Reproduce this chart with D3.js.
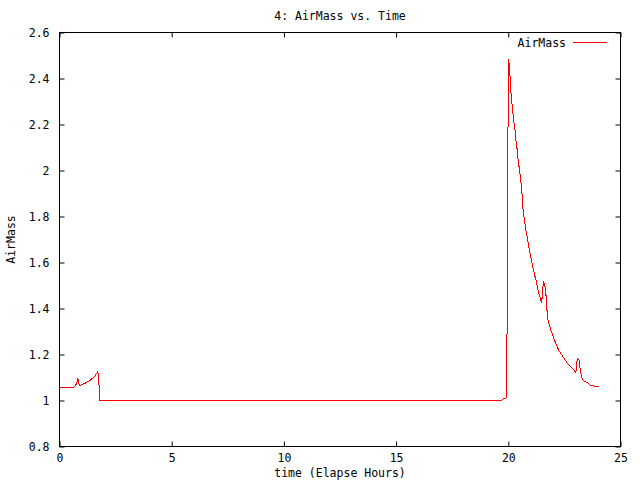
<!DOCTYPE html>
<html>
<head>
<meta charset="utf-8">
<script src="https://cdn.jsdelivr.net/npm/d3@7"></script>
<style>
  body { margin: 0; background: #fff; }
  text { font-family: "DejaVu Sans Mono", monospace; font-size: 11.5px; fill: #000; }
</style>
</head>
<body>
<div id="main"></div>
<script>
// elapsed hours
var hours = [0.04, 0.64, 0.74, 0.82, 0.88, 1.02, 1.20, 1.38, 1.56, 1.71, 1.75, 1.80,
    19.68, 19.77, 19.92, 19.95, 19.98, 20.02, 20.07, 20.11, 20.16, 20.20, 20.25, 20.31,
    20.35, 20.40, 20.44, 20.49, 20.54, 20.60, 20.66, 20.74, 20.81, 20.87, 20.93, 20.99,
    21.05, 21.11, 21.18, 21.26, 21.33, 21.39, 21.45, 21.49, 21.54, 21.58, 21.63, 21.69,
    21.73, 21.78, 21.84, 21.89, 21.96, 22.03, 22.10, 22.18, 22.25, 22.33, 22.40, 22.47,
    22.55, 22.62, 22.70, 22.77, 22.86, 22.95, 23.01, 23.05, 23.10, 23.16, 23.20, 23.25,
    23.31, 23.40, 23.48, 23.59, 23.66, 23.74, 23.89, 24.06];
var airMass = [1.058, 1.058, 1.070, 1.094, 1.065, 1.070, 1.078, 1.089, 1.104, 1.126, 1.087, 1.000,
    1.000, 1.007, 1.012, 1.377, 2.117, 2.483, 2.425, 2.348, 2.297, 2.253, 2.210, 2.167,
    2.123, 2.087, 2.043, 2.009, 1.970, 1.913, 1.826, 1.770, 1.726, 1.696, 1.661, 1.630,
    1.600, 1.574, 1.543, 1.513, 1.478, 1.457, 1.435, 1.427, 1.493, 1.514, 1.500, 1.449,
    1.384, 1.340, 1.326, 1.304, 1.290, 1.268, 1.253, 1.235, 1.217, 1.206, 1.196, 1.186,
    1.174, 1.162, 1.155, 1.148, 1.140, 1.130, 1.120, 1.167, 1.181, 1.174, 1.138, 1.109,
    1.090, 1.084, 1.080, 1.073, 1.065, 1.064, 1.062, 1.058];

var xTicks = [0, 5, 10, 15, 20, 25];
var yTicks = [0.8, 1, 1.2, 1.4, 1.6, 1.8, 2, 2.2, 2.4, 2.6];

const w = 640, h = 480;
const padL = 59.5, padR = 620.5, padT = 32.5, padB = 446.5;
const tick = 5;

const xScale = d3.scaleLinear().domain([0, 25]).range([padL, padR]);
const yScale = d3.scaleLinear().domain([0.8, 2.6]).range([padB, padT]);

const svg = d3.select("#main").append("svg").attr("width", w).attr("height", h);

// axes, ticks pointing inward, mirrored on top and right
const xAxis = d3.axisBottom(xScale).tickValues(xTicks).tickSizeInner(-tick).tickSizeOuter(0).tickPadding(7);
const xTop = d3.axisTop(xScale).tickValues(xTicks).tickSizeInner(-tick).tickSizeOuter(0).tickFormat("");
const yAxis = d3.axisLeft(yScale).tickValues(yTicks).tickSizeInner(-tick).tickSizeOuter(0).tickPadding(10).tickFormat(d3.format("~g"));
const yRight = d3.axisRight(yScale).tickValues(yTicks).tickSizeInner(-tick).tickSizeOuter(0).tickFormat("");

function style(g) {
    g.selectAll("path").remove();
    g.selectAll("line").attr("stroke", "#000");
    g.selectAll("text").style("font-family", "DejaVu Sans Mono").style("font-size", "11.5px").attr("fill", "#000");
}

svg.append("g").attr("transform", "translate(0," + padB + ")").call(xAxis).call(style);
svg.append("g").attr("transform", "translate(0," + padT + ")").call(xTop).call(style);
svg.append("g").attr("transform", "translate(" + padL + ",0)").call(yAxis).call(style);
svg.append("g").attr("transform", "translate(" + padR + ",0)").call(yRight).call(style);

// frame
svg.append("rect")
    .attr("x", padL).attr("y", padT)
    .attr("width", padR - padL).attr("height", padB - padT)
    .attr("fill", "none").attr("stroke", "#000");

// the data line (aliased like the original png)
const line = d3.line()
    .x((d, i) => xScale(hours[i]))
    .y(d => yScale(d));

svg.append("path")
    .datum(airMass)
    .attr("d", line)
    .attr("fill", "none")
    .attr("stroke", "#ff0000")
    .attr("stroke-width", 1)
    .attr("shape-rendering", "crispEdges");

// title and labels
svg.append("text")
    .attr("x", (padL + padR) / 2).attr("y", 20)
    .style("text-anchor", "middle")
    .text("4: AirMass vs. Time");

svg.append("text")
    .attr("x", (padL + padR) / 2).attr("y", 477)
    .style("text-anchor", "middle")
    .text("time (Elapse Hours)");

svg.append("text")
    .attr("transform", "translate(15," + ((padT + padB) / 2) + ") rotate(-90)")
    .style("text-anchor", "middle")
    .text("AirMass");

// legend
svg.append("text")
    .attr("x", 566).attr("y", 47)
    .style("text-anchor", "end")
    .text("AirMass");

svg.append("line")
    .attr("x1", 573).attr("x2", 607)
    .attr("y1", 42.5).attr("y2", 42.5)
    .attr("stroke", "#ff0000");
</script>
</body>
</html>
